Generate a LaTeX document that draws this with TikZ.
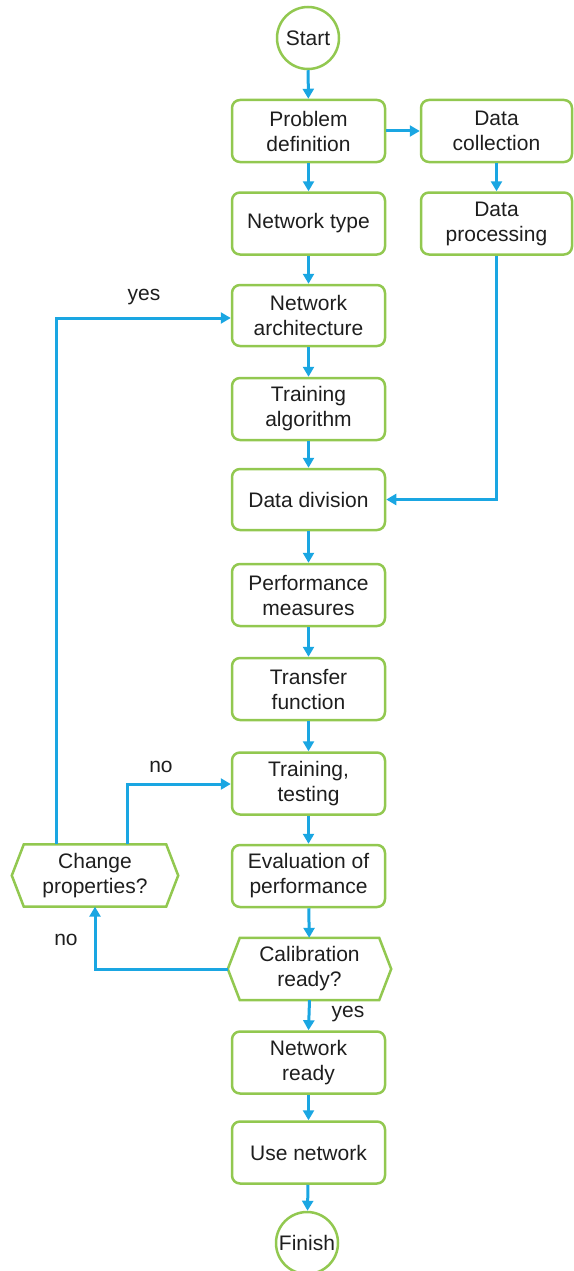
\documentclass[tikz,border=0pt]{standalone}
\usepackage{fontspec}
\setmainfont{Liberation Sans}
\usetikzlibrary{arrows.meta,calc}
\definecolor{lblue}{RGB}{26,166,226}
\definecolor{lgreen}{RGB}{146,200,80}
\definecolor{txt}{RGB}{30,30,30}
\tikzset{
  fnt/.style={font=\fontsize{21}{25}\selectfont},
  box/.style={fnt, draw=lgreen, line width=2.5pt, rounded corners=8pt, minimum width=153pt, minimum height=62pt, inner sep=0pt, align=center, text=txt},
  term/.style={fnt, circle, draw=lgreen, line width=2.5pt, minimum size=62pt, inner sep=0pt, text=txt},
  hex/.style={fnt, draw=none, minimum height=62pt, inner sep=0pt, align=center, text=txt},
  hexline/.style={draw=lgreen, line width=2.5pt, line join=miter},
  arr/.style={draw=lblue, line width=3pt, -{Triangle[length=10pt,width=11pt]}},
  lab/.style={fnt, text=txt, inner sep=0pt}
}
\begin{document}
\begin{tikzpicture}[x=1pt,y=-1pt]
\useasboundingbox (0,0) rectangle (573,1271);
\node[term] (start) at (308,38) {Start};
\node[box] (pd) at (308.5,131) {Problem\\definition};
\node[box, minimum width=151pt] (dc) at (496.5,131) {Data\\collection};
\node[box] (nt) at (308.5,223.5) {Network type};
\node[box, minimum width=151pt] (dp) at (496.5,223.5) {Data\\processing};
\node[box, minimum height=61pt] (na) at (308.5,315.5) {Network\\architecture};
\node[box] (ta) at (308.5,409) {Training\\algorithm};
\node[box, minimum height=61pt] (dd) at (308.5,499.5) {Data division};
\node[box] (pm) at (308.5,595) {Performance\\measures};
\node[box] (tf) at (308.5,689) {Transfer\\function};
\node[box] (tt) at (308.5,783.5) {Training,\\testing};
\node[box] (ev) at (308.5,876) {Evaluation of\\performance};
\node[hex, minimum width=166pt] (cp) at (95,875.5) {Change\\properties?};
\node[hex, minimum width=163pt] (cal) at (309.5,969) {Calibration\\ready?};
\node[box] (nr) at (308.5,1062.5) {Network\\ready};
\node[box] (un) at (308.5,1152.5) {Use network};
\node[term] (fin) at (307,1243) {Finish};
% hexagon outlines
\foreach \n in {cp,cal}{
  \draw[hexline] (\n.west) -- ($(\n.north west)+(12,0)$) -- ($(\n.north east)+(-12,0)$) -- (\n.east) -- ($(\n.south east)+(-12,0)$) -- ($(\n.south west)+(12,0)$) -- cycle;
}
\coordinate (c1) at (56,318);
\coordinate (c2) at (127,784);
% connectors
\draw[arr] (start) -- (pd);
\draw[arr] (pd) -- (dc);
\draw[arr] (pd) -- (nt);
\draw[arr] (dc) -- (dp);
\draw[arr] (nt) -- (na);
\draw[arr] (na) -- (ta);
\draw[arr] (ta) -- (dd);
\draw[arr] (dp.south) |- (dd.east);
\draw[arr] (dd) -- (pm);
\draw[arr] (pm) -- (tf);
\draw[arr] (tf) -- (tt);
\draw[arr] (tt) -- (ev);
\draw[arr] (ev) -- (cal);
\draw[arr] (cal.south) -- (nr.north);
\draw[arr] (nr) -- (un);
\draw[arr] (un) -- (fin);
\draw[arr] (cp.north -| c1) |- (na.west |- c1);
\draw[arr] (cp.north -| c2) |- (tt.west |- c2);
\draw[arr] (cal.west) -| (cp.south);
% labels
\node[lab] (lyes1) at (144,297) {yes};
\node[lab] (lno1) at (161,767) {no};
\node[lab] (lno2) at (66,940) {no};
\node[lab] (lyes2) at (348,1014) {yes};
\end{tikzpicture}
\end{document}
